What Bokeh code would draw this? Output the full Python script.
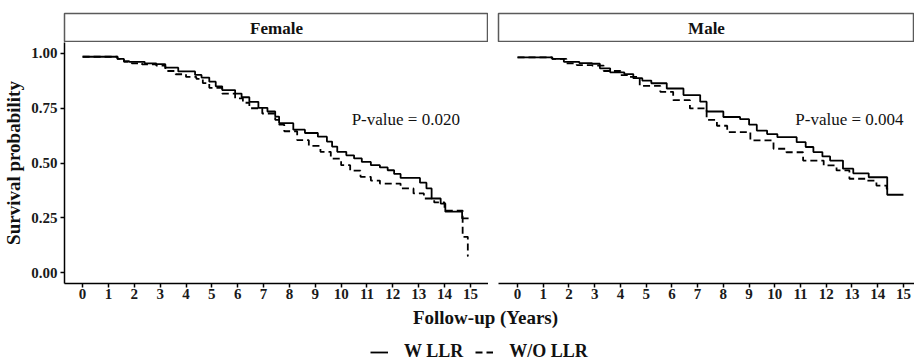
from bokeh.plotting import figure
from bokeh.layouts import row, column
from bokeh.models import (FixedTicker, NumeralTickFormatter, Label, Legend,
                          LegendItem, Range1d)
from bokeh.embed import file_html
from bokeh.resources import INLINE

SERIF = "Liberation Serif"

# Kaplan-Meier survival estimates: follow-up time (years) and survival probability
female_w_time = [0, 1.35, 1.6, 1.8, 2.4, 2.85, 3.2, 3.7, 4.35, 4.6, 4.9, 5.15, 5.4, 5.9,
                 6.15, 6.45, 6.8, 7.15, 7.45, 7.6, 8.15, 8.6, 9.1, 9.45, 9.65, 9.85, 10.2,
                 10.5, 10.8, 11.15, 11.5, 11.8, 12.05, 12.3, 13.05, 13.3, 13.5, 13.85,
                 14.03, 14.68, 14.93]
female_w_surv = [0.985, 0.975, 0.965, 0.962, 0.955, 0.951, 0.935, 0.918, 0.902, 0.89,
                 0.871, 0.85, 0.833, 0.817, 0.8, 0.779, 0.752, 0.735, 0.712, 0.682, 0.652,
                 0.637, 0.62, 0.598, 0.575, 0.551, 0.535, 0.521, 0.505, 0.49, 0.48, 0.467,
                 0.45, 0.432, 0.41, 0.384, 0.338, 0.315, 0.278, 0.247, 0.247]

female_wo_time = [0, 1.35, 1.6, 1.9, 2.3, 2.85, 3.2, 3.6, 4.0, 4.4, 4.65, 4.9, 5.4, 5.9,
                  6.2, 6.45, 6.95, 7.45, 7.6, 7.8, 8.3, 8.75, 9.2, 9.6, 10.0, 10.35, 10.75,
                  11.15, 11.5, 12.3, 12.8, 13.2, 13.6, 14.0, 14.7, 14.9, 14.92]
female_wo_surv = [0.985, 0.975, 0.962, 0.955, 0.95, 0.944, 0.92, 0.905, 0.893, 0.884,
                  0.865, 0.843, 0.817, 0.795, 0.775, 0.75, 0.726, 0.697, 0.675, 0.645,
                  0.604, 0.578, 0.551, 0.52, 0.49, 0.465, 0.437, 0.42, 0.406, 0.384,
                  0.361, 0.338, 0.32, 0.283, 0.163, 0.075, 0.075]

male_w_time = [0, 1.35, 1.8, 2.4, 2.9, 3.2, 3.6, 4.15, 4.5, 4.85, 5.2, 5.8, 6.45, 7.1,
               7.35, 8.0, 8.65, 9.0, 9.3, 9.7, 10.1, 10.85, 11.2, 11.5, 11.85, 12.15,
               12.65, 13.05, 13.65, 14.37, 15.0]
male_w_surv = [0.982, 0.975, 0.962, 0.956, 0.953, 0.932, 0.914, 0.906, 0.887, 0.876,
               0.864, 0.84, 0.81, 0.78, 0.735, 0.71, 0.70, 0.675, 0.648, 0.632, 0.618,
               0.595, 0.573, 0.55, 0.53, 0.511, 0.474, 0.453, 0.435, 0.355, 0.355]

male_wo_time = [0, 1.35, 1.9, 2.3, 2.9, 3.35, 4.0, 4.25, 4.75, 5.55, 6.05, 6.7, 7.35,
                7.75, 8.15, 9.05, 9.95, 10.45, 11.1, 11.9, 12.4, 12.9, 13.55, 13.95,
                14.35, 14.45]
male_wo_surv = [0.982, 0.975, 0.955, 0.947, 0.944, 0.92, 0.901, 0.893, 0.852, 0.825,
                0.787, 0.749, 0.697, 0.67, 0.641, 0.603, 0.565, 0.549, 0.511, 0.489,
                0.466, 0.428, 0.42, 0.397, 0.382, 0.382]

panel_titles = ["Female", "Male"]
p_value_texts = ["P-value = 0.020", "P-value = 0.004"]
group_labels = ["W LLR", "W/O LLR"]
x_ticks = list(range(0, 16))
y_ticks = [0, 0.25, 0.5, 0.75, 1.0]

DASH = "7 4"
LINE_W = 1.8


def style_axis(ax):
    ax.axis_line_color = "black"
    ax.axis_line_width = 1.5
    ax.major_tick_line_color = "black"
    ax.major_tick_line_width = 1.5
    ax.major_tick_out = 4
    ax.major_tick_in = 0
    ax.minor_tick_line_color = None
    ax.major_label_text_font = SERIF
    ax.major_label_text_font_style = "bold"
    ax.major_label_text_font_size = "15px"
    ax.major_label_text_color = "#1a1a1a"
    ax.major_label_standoff = 1


def make_strip(width, left, title):
    s = figure(width=width, height=42, x_range=Range1d(0, 1), y_range=Range1d(0, 1),
               output_backend="svg", toolbar_location=None,
               x_axis_location=None, y_axis_location=None,
               min_border_left=left, min_border_right=0,
               min_border_top=13, min_border_bottom=0)
    s.xgrid.visible = False
    s.ygrid.visible = False
    s.outline_line_color = "#5a5a5a"
    s.outline_line_width = 1.5
    s.add_layout(Label(x=0.5, y=0.5, text=title, text_align="center",
                       text_baseline="middle", text_font=SERIF,
                       text_font_style="bold", text_font_size="17px",
                       text_color="#111111"))
    return s


def make_panel(width, left, xr, show_y, w_t, w_s, o_t, o_s, ptext, px):
    p = figure(width=width, height=263, x_range=Range1d(*xr),
               y_range=Range1d(-0.05, 1.05),
               output_backend="svg", toolbar_location=None,
               y_axis_location="left" if show_y else None,
               min_border_left=left, min_border_right=0,
               min_border_top=0, min_border_bottom=22)
    p.xgrid.visible = False
    p.ygrid.visible = False
    p.outline_line_color = None

    p.step(w_t, w_s, mode="after", line_color="black", line_width=LINE_W)
    p.step(o_t, o_s, mode="after", line_color="black", line_width=LINE_W,
           line_dash=DASH)

    p.xaxis.ticker = FixedTicker(ticks=x_ticks)
    style_axis(p.xaxis[0])
    if show_y:
        ya = p.yaxis[0]
        ya.ticker = FixedTicker(ticks=y_ticks)
        ya.formatter = NumeralTickFormatter(format="0.00")
        style_axis(ya)
        ya.major_label_standoff = 3
        ya.axis_label = "Survival probability"
        ya.axis_label_text_font = SERIF
        ya.axis_label_text_font_style = "bold"
        ya.axis_label_text_font_size = "19px"
        ya.axis_label_text_color = "#111111"
        ya.axis_label_standoff = 4

    p.add_layout(Label(x=px, y=0.70, text=ptext, text_align="center",
                       text_baseline="middle", text_font=SERIF,
                       text_font_size="17px", text_color="#111111"))
    return p


strip_f = make_strip(488, 64, panel_titles[0])
panel_f = make_panel(488, 64, (-0.7, 15.7), True, female_w_time, female_w_surv,
                     female_wo_time, female_wo_surv, p_value_texts[0], 12.5)

strip_m = make_strip(426, 10, panel_titles[1])
panel_m = make_panel(426, 10, (-0.74, 15.43), False, male_w_time, male_w_surv,
                     male_wo_time, male_wo_surv, p_value_texts[1], 12.9)

# shared x-axis title and legend underneath both panels
bottom = figure(width=914, height=58, x_range=Range1d(0, 914), y_range=Range1d(0, 58),
                output_backend="svg", toolbar_location=None,
                x_axis_location=None, y_axis_location=None, min_border=0)
bottom.xgrid.visible = False
bottom.ygrid.visible = False
bottom.outline_line_color = None
bottom.add_layout(Label(x=485, y=46, text="Follow-up (Years)", text_align="center",
                        text_baseline="middle", text_font=SERIF,
                        text_font_style="bold", text_font_size="19px",
                        text_color="#111111"))
# legend keys: lines kept outside the visible range, only their style is shown
r_w = bottom.line(x=[-20, -10], y=[-20, -20], line_color="black", line_width=LINE_W)
r_o = bottom.line(x=[-20, -10], y=[-20, -20], line_color="black", line_width=LINE_W,
                  line_dash=DASH)
legend = Legend(items=[LegendItem(label=group_labels[0], renderers=[r_w]),
                       LegendItem(label=group_labels[1], renderers=[r_o])],
                orientation="horizontal", location=(370, 1),
                glyph_width=18, glyph_height=20, label_standoff=16, spacing=12,
                padding=0, margin=0, border_line_color=None,
                background_fill_alpha=0,
                label_text_font=SERIF, label_text_font_style="bold",
                label_text_font_size="18px", label_text_color="#111111")
bottom.add_layout(legend)

layout = column(row(column(strip_f, panel_f), column(strip_m, panel_m)), bottom)

open("out.html", "w").write(file_html(layout, INLINE))
